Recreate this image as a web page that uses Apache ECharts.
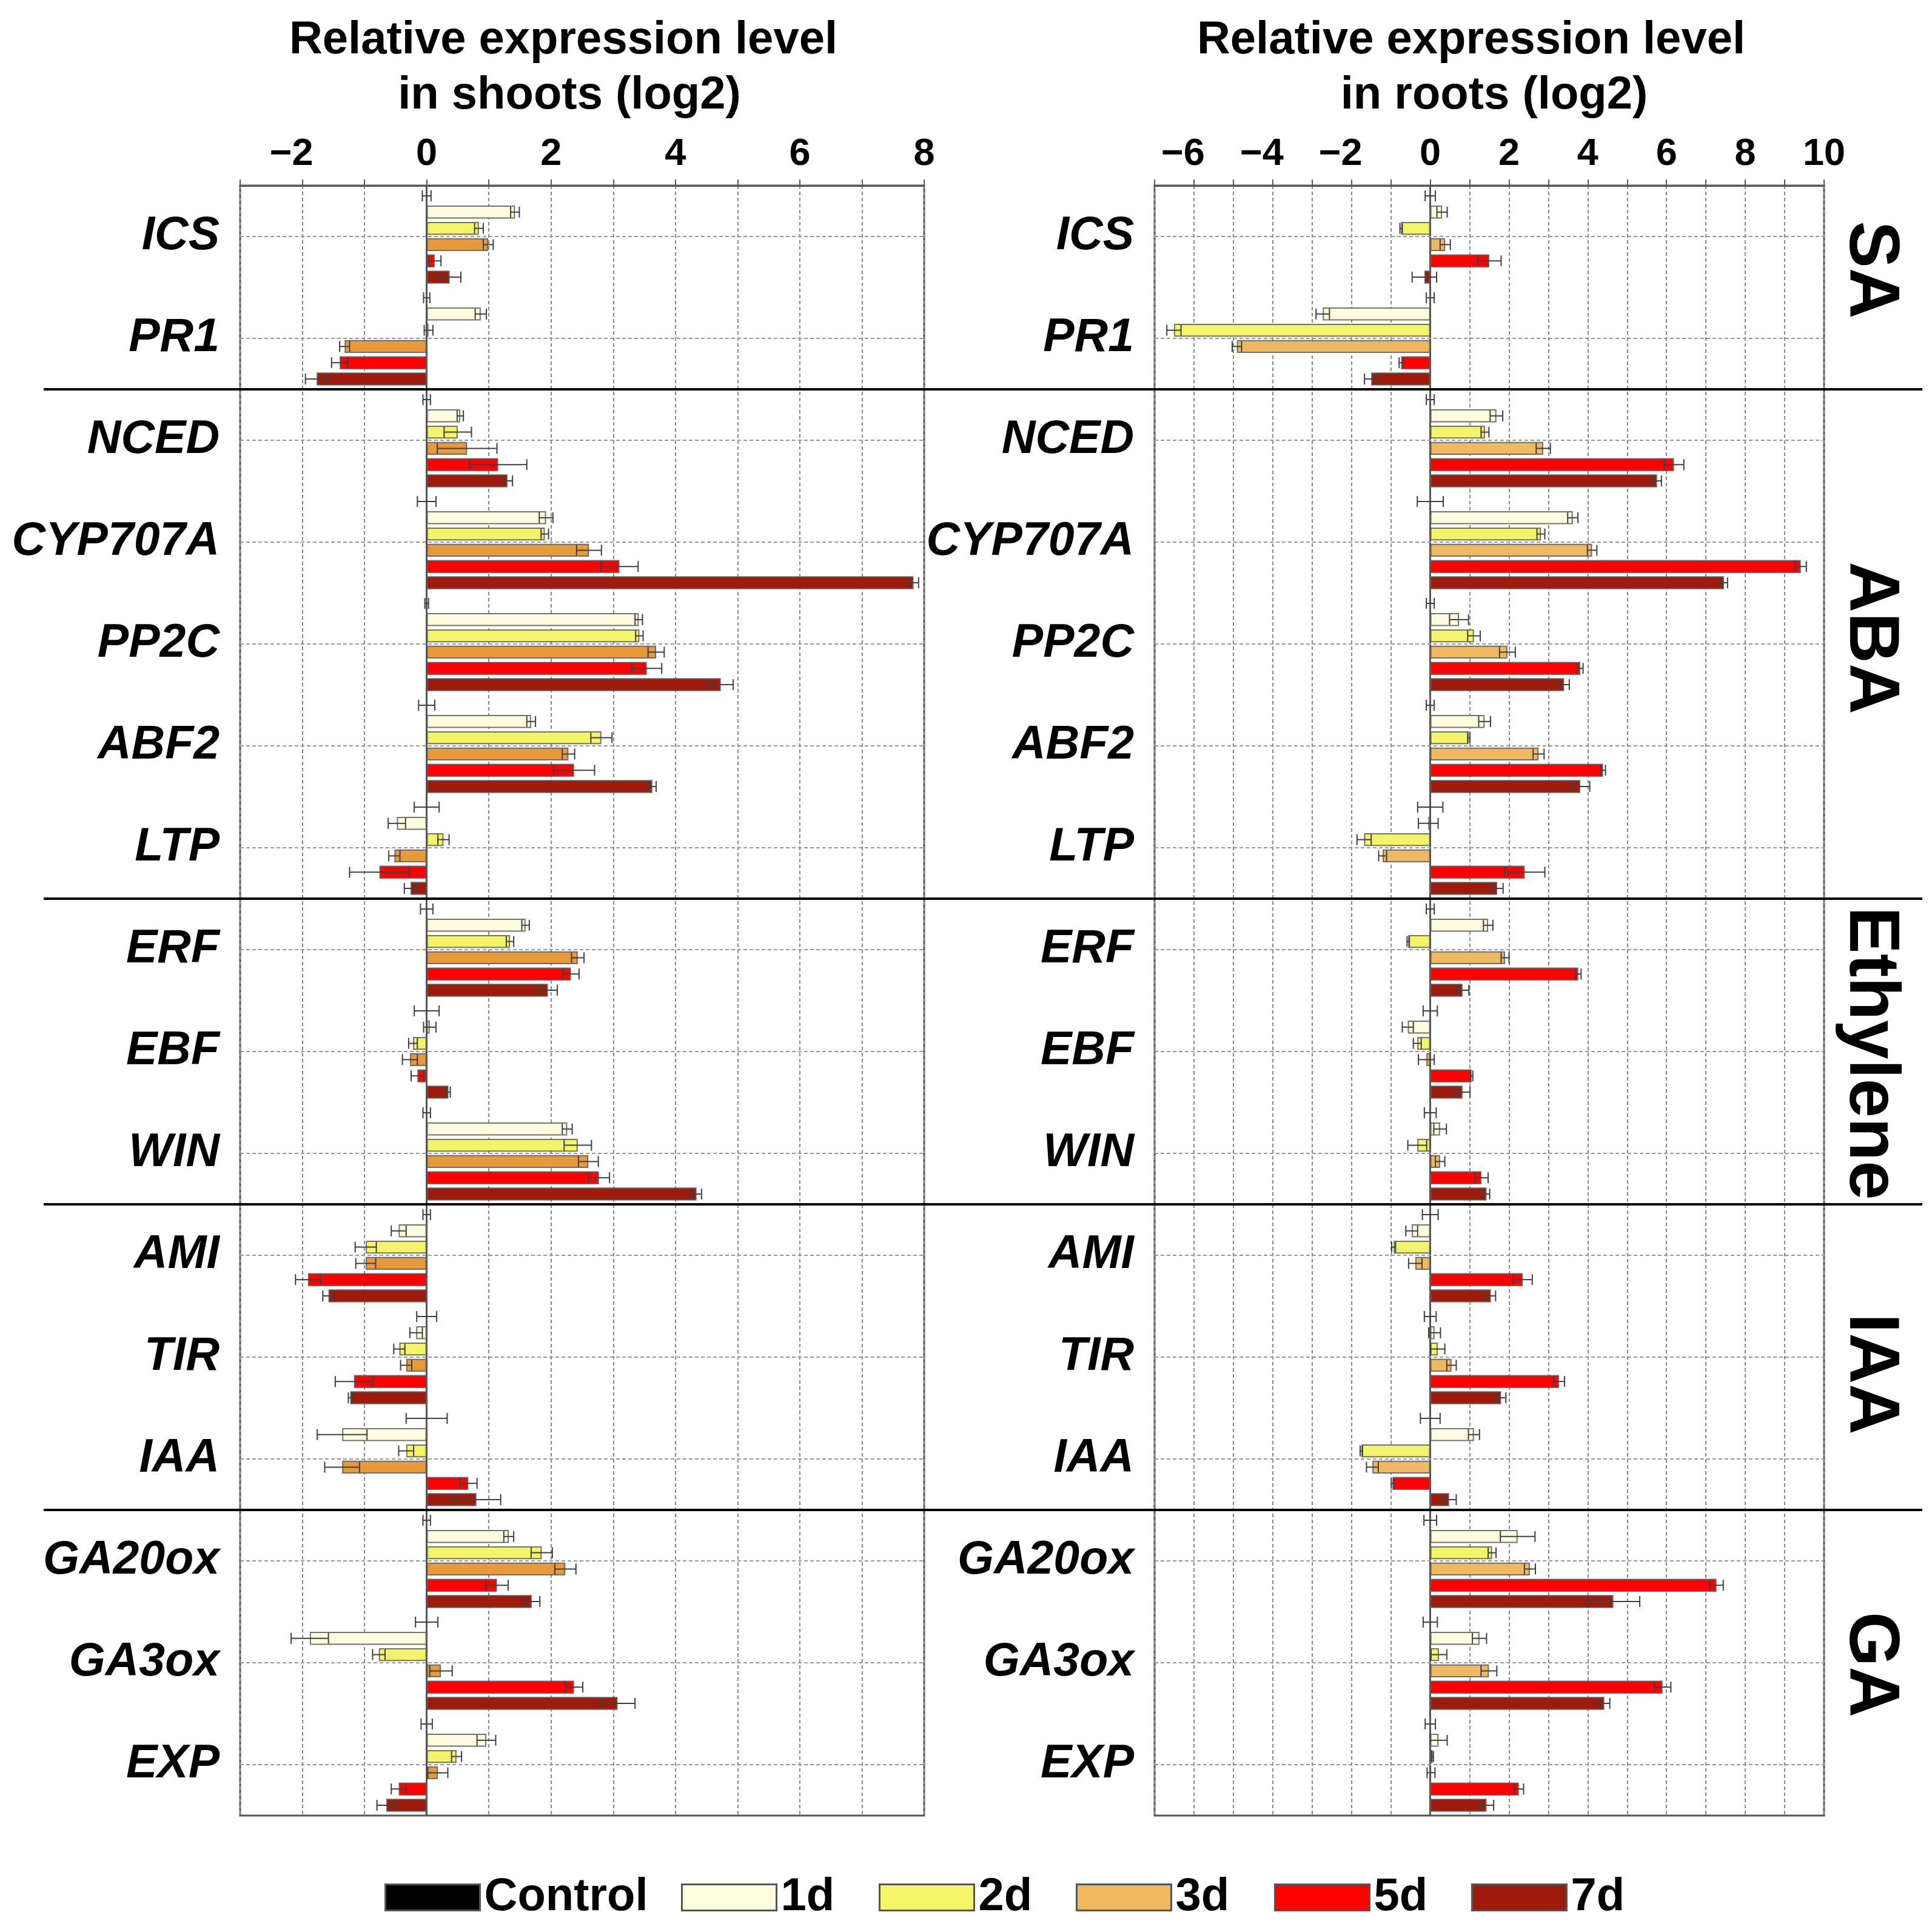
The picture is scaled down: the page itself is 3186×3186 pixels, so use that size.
<!DOCTYPE html>
<html><head><meta charset="utf-8">
<script src="https://cdn.jsdelivr.net/npm/echarts@6/dist/echarts.min.js"></script>
<style>html,body{margin:0;padding:0;background:#fff}#c{width:3186px;height:3186px}</style>
</head><body><div id="c"></div>
<script>
// ---------- DATA ----------
const genes = ['ICS','PR1','NCED','CYP707A','PP2C','ABF2','LTP','ERF','EBF','WIN','AMI','TIR','IAA','GA20ox','GA3ox','EXP'];
const groups = ['SA','ABA','Ethylene','IAA','GA'];
const groupFirst = ['ICS','NCED','ERF','AMI','GA20ox'];
const groupLast  = ['PR1','LTP','WIN','IAA','EXP'];
const timePoints = ['Control','1d','2d','3d','5d','7d'];
const shootTickLabels = [-2,0,2,4,6,8];
const rootTickLabels = [-6,-4,-2,0,2,4,6,8,10];

// shoots (log2), gene order as in genes
const shootsControl = [0,0,0,0,0,0,0,0,0,0,0,0,0,0,0,0];
const shoots1d = [1.42,0.87,0.54,1.92,3.41,1.68,-0.48,1.59,0.05,2.26,-0.45,-0.17,-1.36,1.32,-1.88,0.96];
const shoots2d = [0.84,0.03,0.50,1.90,3.42,2.81,0.27,1.34,-0.22,2.43,-0.98,-0.44,-0.33,1.85,-0.77,0.48];
const shoots3d = [0.99,-1.32,0.65,2.61,3.69,2.28,-0.52,2.43,-0.27,2.60,-0.98,-0.33,-1.36,2.23,0.23,0.18];
const shoots5d = [0.13,-1.40,1.15,3.10,3.54,2.37,-0.76,2.32,-0.15,2.77,-1.91,-1.17,0.67,1.13,2.37,-0.45];
const shoots7d = [0.37,-1.77,1.30,7.83,4.73,3.63,-0.26,1.95,0.35,4.34,-1.58,-1.23,0.80,1.69,3.07,-0.65];
const shootsControlErr = [0.07,0.05,0.06,0.15,0.03,0.13,0.20,0.10,0.20,0.06,0.06,0.16,0.33,0.06,0.18,0.09];
const shoots1dErr = [0.07,0.09,0.05,0.11,0.06,0.07,0.14,0.06,0.10,0.08,0.12,0.10,0.40,0.08,0.30,0.15];
const shoots2dErr = [0.07,0.07,0.22,0.06,0.06,0.17,0.09,0.06,0.07,0.22,0.17,0.09,0.12,0.17,0.10,0.08];
const shoots3dErr = [0.08,0.08,0.48,0.20,0.13,0.10,0.09,0.10,0.12,0.16,0.16,0.09,0.28,0.17,0.18,0.16];
const shoots5dErr = [0.10,0.13,0.46,0.30,0.24,0.33,0.48,0.13,0.10,0.17,0.20,0.30,0.14,0.18,0.14,0.12];
const shoots7dErr = [0.18,0.18,0.08,0.08,0.20,0.06,0.10,0.15,0.03,0.08,0.09,0.03,0.39,0.13,0.28,0.15];

// roots (log2)
const rootsControl = [0,0,0,0,0,0,0,0,0,0,0,0,0,0,0,0];
const roots1d = [0.30,-2.73,1.68,3.62,0.73,1.38,-0.05,1.47,-0.57,0.25,-0.47,0.11,1.11,2.22,1.25,0.21];
const roots2d = [-0.74,-6.51,1.39,2.81,1.11,0.98,-1.68,-0.56,-0.33,-0.33,-0.93,0.19,-1.75,1.57,0.22,0.06];
const roots3d = [0.38,-4.91,2.87,4.11,1.96,2.75,-1.21,1.90,-0.10,0.25,-0.38,0.54,-1.47,2.53,1.49,0.02];
const roots5d = [1.50,-0.74,6.19,9.41,3.81,4.39,2.40,3.76,1.05,1.30,2.35,3.27,-0.96,7.27,5.90,2.25];
const roots7d = [-0.15,-1.50,5.76,7.46,3.40,3.81,1.70,0.82,0.82,1.43,1.54,1.80,0.48,4.65,4.42,1.43];
const rootsControlErr = [0.13,0.10,0.10,0.33,0.10,0.10,0.32,0.10,0.18,0.15,0.20,0.15,0.25,0.16,0.18,0.13];
const roots1dErr = [0.13,0.17,0.16,0.13,0.24,0.15,0.25,0.12,0.14,0.16,0.15,0.15,0.14,0.44,0.18,0.22];
const roots2dErr = [0.03,0.18,0.10,0.10,0.16,0.03,0.18,0.03,0.10,0.24,0.05,0.18,0.03,0.10,0.20,0.02];
const roots3dErr = [0.13,0.12,0.18,0.12,0.20,0.14,0.10,0.10,0.20,0.12,0.17,0.12,0.15,0.14,0.20,0.10];
const roots5dErr = [0.30,0.05,0.25,0.14,0.07,0.06,0.51,0.07,0.03,0.17,0.24,0.14,0.03,0.17,0.21,0.12];
const roots7dErr = [0.31,0.17,0.11,0.09,0.13,0.24,0.15,0.16,0.19,0.08,0.12,0.12,0.18,0.67,0.14,0.18];

// ---------- STYLE ----------
const FONT = "'Liberation Sans', Arial, Helvetica, sans-serif";
const shootColors = ['#000000','#FFFDDE','#F4F46C','#E8993A','#FF0000','#9E1A0A'];
const rootColors  = ['#000000','#FFFDDE','#F4F46C','#F0B860','#FF0000','#9E1A0A'];
const legendColors = ['#000000','#FFFFE0','#F5F56A','#F0B95E','#FF0000','#9E1A0A'];
const BAR_GAP = 0.25, CAT_GAP = 0.075, NBARS = 6;

const panels = [
  {vals:[shootsControl,shoots1d,shoots2d,shoots3d,shoots5d,shoots7d],
   errs:[shootsControlErr,shoots1dErr,shoots2dErr,shoots3dErr,shoots5dErr,shoots7dErr],
   colors: shootColors, ticks: shootTickLabels},
  {vals:[rootsControl,roots1d,roots2d,roots3d,roots5d,roots7d],
   errs:[rootsControlErr,roots1dErr,roots2dErr,roots3dErr,roots5dErr,roots7dErr],
   colors: rootColors, ticks: rootTickLabels}
];

function errRender(idx){
  return function(params, api){
    const v = api.value(0), k = api.value(1), e = api.value(2);
    const c = api.coord([v, k]);
    const lo = api.coord([v - e, k]);
    const hi = api.coord([v + e, k]);
    const band = api.size([0, 1])[1];
    const w = band * (1 - CAT_GAP) / (NBARS + (NBARS - 1) * BAR_GAP);
    const total = NBARS * w + (NBARS - 1) * w * BAR_GAP;
    const y = c[1] - total / 2 + idx * w * (1 + BAR_GAP) + w / 2;
    const h = 9;
    const st = {stroke:'#404040', lineWidth:2};
    return {type:'group', children:[
      {type:'line', shape:{x1:lo[0], y1:y, x2:hi[0], y2:y}, style:st},
      {type:'line', shape:{x1:lo[0], y1:y-h, x2:lo[0], y2:y+h}, style:st},
      {type:'line', shape:{x1:hi[0], y1:y-h, x2:hi[0], y2:y+h}, style:st}
    ]};
  };
}
function centerLineRender(params, api){
  const cs = params.coordSys;
  const y = api.coord([0, api.value(1)])[1];
  return {type:'line', shape:{x1:cs.x, y1:y, x2:cs.x + cs.width, y2:y},
    style:{stroke:'#999', lineWidth:2, lineDash:[6,4]}};
}

const series = [];
panels.forEach((p, g) => {
  series.push({
    type:'custom', name:'center lines', xAxisIndex:g, yAxisIndex:g, z:1, silent:true,
    renderItem: centerLineRender, encode:{x:0, y:1},
    data: genes.map((gn, k) => [0, k])
  });
  timePoints.forEach((tp, i) => {
    series.push({
      type:'bar', name: tp, xAxisIndex:g, yAxisIndex:g,
      data: p.vals[i],
      barGap: (BAR_GAP*100)+'%', barCategoryGap: (CAT_GAP*100)+'%',
      itemStyle:{color:p.colors[i], borderColor:'rgba(90,90,90,0.85)', borderWidth:2},
      emphasis:{disabled:true}, z:2
    });
  });
  timePoints.forEach((tp, i) => {
    series.push({
      type:'custom', name: tp + ' err', xAxisIndex:g, yAxisIndex:g, z:5,
      renderItem: errRender(i), encode:{x:0, y:1},
      data: p.vals[i].map((v, k) => [v, k, p.errs[i][k]]),
      silent:true
    });
  });
});

function xAxisOf(min, max, ticks){
  return {
    type:'value', position:'top', min:min, max:max, interval:1,
    axisLine:{show:true, lineStyle:{color:'#555', width:3}},
    axisTick:{show:true, length:10, lineStyle:{color:'#555', width:2}},
    splitLine:{show:true, lineStyle:{type:[6,4], color:'#8a8a8a', width:2}},
    axisLabel:{margin:20, color:'#000',
      formatter: v => ticks.indexOf(v) < 0 ? '' :
        (v < 0 ? '{n|\u2212' + Math.abs(v) + '}{p| }' : '{n|' + v + '}'),
      rich:{
        n:{fontSize:63, fontWeight:'bold', fontFamily:FONT, color:'#000'},
        p:{fontSize:63, width:36}
      }}
  };
}
function yAxisOf(){
  return {
    type:'category', data:genes, inverse:true,
    axisLine:{show:true, lineStyle:{color:'#555', width:3}},
    axisTick:{show:false}, splitLine:{show:false},
    axisLabel:{margin:34, fontSize:77, fontWeight:'bold', fontStyle:'italic', fontFamily:FONT, color:'#000'}
  };
}

const legendLefts = [629, 1118, 1444, 1769, 2096, 2421];
const legends = timePoints.map((tp, i) => ({
  left: legendLefts[i], top: 3086, orient:'horizontal', icon:'rect',
  itemWidth:156, itemHeight:43, selectedMode:false,
  data:[{name:tp, itemStyle:{color:legendColors[i], borderColor:'#555', borderWidth:3}}],
  textStyle:{fontSize:76, fontWeight:'bold', fontFamily:FONT, color:'#000', padding:[0,0,0,2]}
}));

const chart = echarts.init(document.getElementById('c'), null, {renderer:'canvas'});
chart.setOption({
  backgroundColor:'#fff', animation:false,
  grid:[
    {left:396, top:306, width:1128, height:2688, show:true, borderColor:'#555', borderWidth:3, containLabel:false},
    {left:1904, top:306, width:1104, height:2688, show:true, borderColor:'#555', borderWidth:3, containLabel:false}
  ],
  xAxis:[
    Object.assign(xAxisOf(-3, 8, shootTickLabels), {gridIndex:0}),
    Object.assign(xAxisOf(-7, 10, rootTickLabels), {gridIndex:1})
  ],
  yAxis:[Object.assign(yAxisOf(), {gridIndex:0}), Object.assign(yAxisOf(), {gridIndex:1})],
  legend: legends,
  series: series
});

// ---- annotations positioned from the library's own scales ----
const gi = n => genes.indexOf(n);
const yPix = n => chart.convertToPixel({yAxisIndex:0}, n);
const graphics = [];
groupLast.slice(0, -1).forEach((gn, j) => {
  const y = (yPix(gn) + yPix(genes[gi(gn) + 1])) / 2;
  graphics.push({type:'line', silent:true, z:10,
    shape:{x1:72, y1:y, x2:3170, y2:y}, style:{stroke:'#000', lineWidth:4}});
});
const labelShift = [-29, -10, 3, 28, 3];
groups.forEach((gname, j) => {
  const y = (yPix(groupFirst[j]) + yPix(groupLast[j])) / 2 + labelShift[j];
  graphics.push({type:'text', silent:true, x:3083, y:y, rotation:-Math.PI/2,
    style:{text:gname, fontSize:116, fontWeight:'bold', fontFamily:FONT, fill:'#000',
      align:'center', verticalAlign:'middle'}});
});
const titles = [
  ['Relative expression level', 929, 67], ['in shoots (log2)', 939, 158],
  ['Relative expression level', 2426, 67], ['in roots (log2)', 2464, 158]
];
titles.forEach(t => graphics.push({type:'text', silent:true, x:t[1], y:t[2],
  style:{text:t[0], fontSize:76, fontWeight:'bold', fontFamily:FONT, fill:'#000',
    align:'center', verticalAlign:'middle'}}));
chart.setOption({graphic: graphics});
</script>
</body></html>
